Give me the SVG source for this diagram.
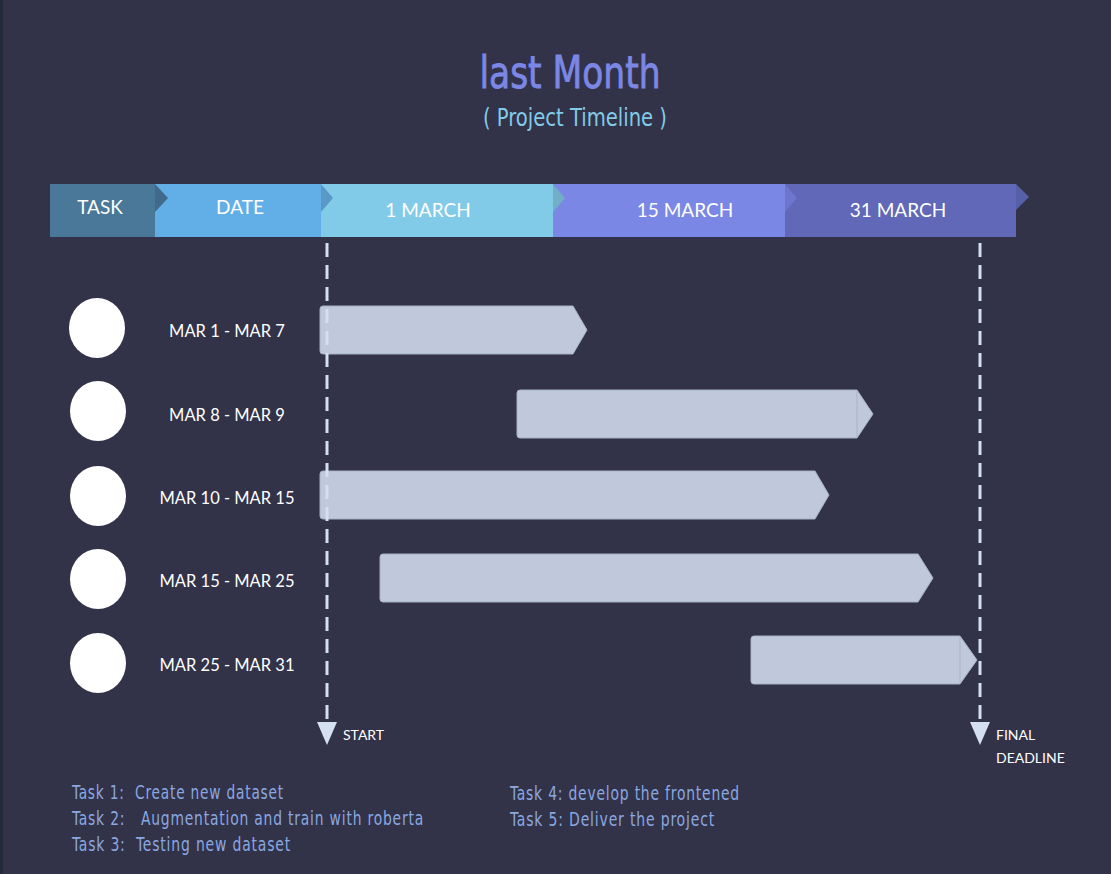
<svg xmlns="http://www.w3.org/2000/svg" width="1111" height="874" viewBox="0 0 1111 874">
<defs>
<style>
.hdr{font-family:"Lato","Open Sans",sans-serif;font-size:19px;fill:#ffffff;text-anchor:middle}
.date{font-family:"Lato","Open Sans",sans-serif;font-size:16.5px;fill:#ffffff;text-anchor:middle}
.lbl{font-family:"Lato","Open Sans",sans-serif;font-size:14px;fill:#ffffff}
.task{font-family:"DejaVu Sans Condensed","Liberation Sans",sans-serif;font-size:19px;fill:#8aa8e0;letter-spacing:1px}
.bar{fill:#c0c8dc;stroke:#a9b1c8;stroke-width:1}
.dash{stroke:#d4e0f0;stroke-width:3;stroke-dasharray:14 8;fill:none}
.circ{fill:#ffffff}
</style>
</defs>
<rect x="0" y="0" width="1111" height="874" fill="#323249"/>
<rect x="0" y="0" width="3" height="874" fill="#232a3a"/>

<g id="title">
<text x="570" y="88" font-family="DejaVu Sans Condensed, Liberation Sans, sans-serif" font-size="44" fill="#7b87e5" stroke="#7b87e5" stroke-width="0.8" text-anchor="middle" textLength="181" lengthAdjust="spacingAndGlyphs">last Month</text>
<text x="575" y="126" font-family="DejaVu Sans Condensed, Liberation Sans, sans-serif" font-size="24" fill="#82cbe8" text-anchor="middle" textLength="184" lengthAdjust="spacingAndGlyphs">( Project Timeline )</text>
</g>

<g id="header">
<rect x="50" y="184" width="105" height="53" fill="#4a7898"/>
<rect x="155" y="184" width="166" height="53" fill="#62aee6"/>
<rect x="321" y="184" width="232" height="53" fill="#82cbe8"/>
<rect x="553" y="184" width="232" height="53" fill="#7b87e5"/>
<rect x="785" y="184" width="231" height="53" fill="#6068b7"/>
<polygon points="155,184 168,198 155,212" fill="#43698a"/>
<polygon points="321,184 333,198 321,212" fill="#5a98c8"/>
<polygon points="553,184 565,198 553,212" fill="#72aec8"/>
<polygon points="785,184 797,198 785,212" fill="#6d76cc"/>
<polygon points="1016,184 1029,197 1016,210" fill="#5660a8"/>
<text class="hdr" x="100" y="214">TASK</text>
<text class="hdr" x="240" y="214">DATE</text>
<text class="hdr" x="428" y="217">1 MARCH</text>
<text class="hdr" x="685" y="217">15 MARCH</text>
<text class="hdr" x="898" y="217">31 MARCH</text>
</g>

<g id="task1">
<ellipse class="circ" cx="97" cy="328" rx="28" ry="30"/>
<text class="date" x="227" y="337">MAR 1 - MAR 7</text>
<path class="bar" d="M323,306 H573 L587,330 L573,354 H323 Q320,354 320,351 V309 Q320,306 323,306 Z"/>
</g>
<g id="task2">
<ellipse class="circ" cx="98" cy="411" rx="28" ry="30"/>
<text class="date" x="227" y="421">MAR 8 - MAR 9</text>
<path class="bar" d="M520,390 H857 L873,414 L857,438 H520 Q517,438 517,435 V393 Q517,390 520,390 Z"/>
<line x1="857" y1="391" x2="857" y2="437" stroke="#aab2c8" stroke-width="1"/>
</g>
<g id="task3">
<ellipse class="circ" cx="98" cy="496" rx="28" ry="30"/>
<text class="date" x="227" y="504">MAR 10 - MAR 15</text>
<path class="bar" d="M323,471 H815 L829,495 L815,519 H323 Q320,519 320,516 V474 Q320,471 323,471 Z"/>
</g>
<g id="task4">
<ellipse class="circ" cx="98" cy="579" rx="28" ry="30"/>
<text class="date" x="227" y="587">MAR 15 - MAR 25</text>
<path class="bar" d="M383,554 H918 L933,578 L918,602 H383 Q380,602 380,599 V557 Q380,554 383,554 Z"/>
</g>
<g id="task5">
<ellipse class="circ" cx="98" cy="663" rx="28" ry="30"/>
<text class="date" x="227" y="671">MAR 25 - MAR 31</text>
<path class="bar" d="M754,636 H960 L977,660 L960,684 H754 Q751,684 751,681 V639 Q751,636 754,636 Z"/>
<line x1="960" y1="637" x2="960" y2="683" stroke="#aab2c8" stroke-width="1"/>
</g>

<g id="connectors">
<line class="dash" x1="327" y1="243" x2="327" y2="722"/>
<polygon points="317,722 337,722 327,745" fill="#d4e0f0"/>
<line class="dash" x1="980" y1="243" x2="980" y2="722"/>
<polygon points="970,722 990,722 980,745" fill="#d4e0f0"/>
</g>

<g id="labels">
<text class="lbl" x="343" y="740">START</text>
<text class="lbl" x="996" y="740">FINAL</text>
<text class="lbl" x="996" y="763">DEADLINE</text>
</g>

<g id="legend">
<text class="task" x="72" y="799" textLength="212" lengthAdjust="spacingAndGlyphs" xml:space="preserve">Task 1:  Create new dataset</text>
<text class="task" x="72" y="825" textLength="352" lengthAdjust="spacingAndGlyphs" xml:space="preserve">Task 2:   Augmentation and train with roberta</text>
<text class="task" x="72" y="851" textLength="219" lengthAdjust="spacingAndGlyphs" xml:space="preserve">Task 3:  Testing new dataset</text>
<text class="task" x="510" y="800" textLength="230" lengthAdjust="spacingAndGlyphs">Task 4: develop the frontened</text>
<text class="task" x="510" y="826" textLength="205" lengthAdjust="spacingAndGlyphs">Task 5: Deliver the project</text>
</g>
</svg>
